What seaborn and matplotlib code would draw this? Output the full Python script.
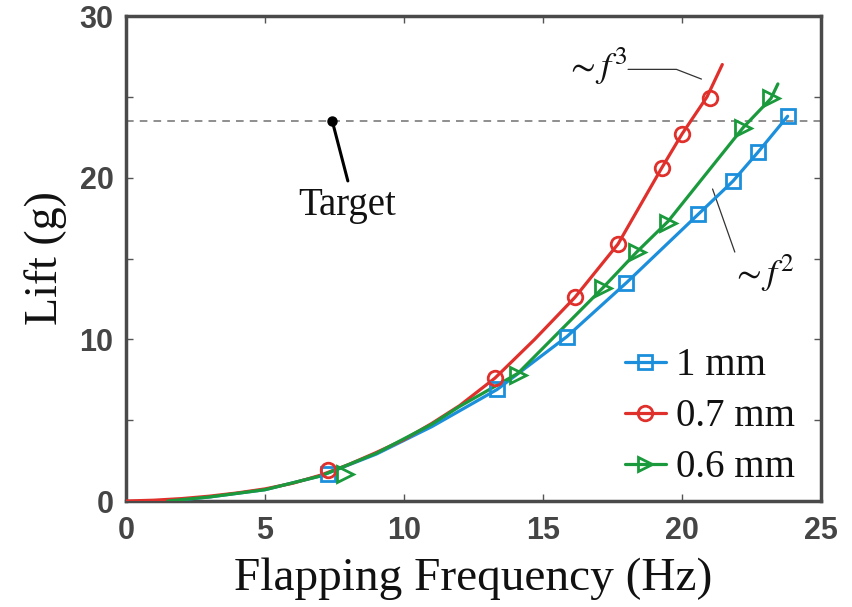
import numpy as np
import pandas as pd
import seaborn as sns
import matplotlib.pyplot as plt
from matplotlib.lines import Line2D

# ---- measured lift vs flapping frequency (markers) ----
freq_1mm = [7.27, 13.35, 15.86, 18.0, 20.58, 21.83, 22.73, 23.8]
lift_1mm = [1.7, 6.9, 10.17, 13.5, 17.73, 19.78, 21.57, 23.8]

freq_07mm = [7.27, 13.27, 16.15, 17.7, 19.27, 20.0, 21.0]
lift_07mm = [1.9, 7.6, 12.6, 15.9, 20.6, 22.7, 24.95]

freq_06mm = [7.88, 14.1, 17.16, 18.37, 19.5, 22.2, 23.2]
lift_06mm = [1.7, 7.8, 13.2, 15.4, 17.2, 23.1, 24.9]

# ---- fitted trend lines ----
curve_f_1mm = [1.5, 3, 5, 7, 9, 11, 13.35, 15.86, 18.0, 20.58, 21.83, 22.73, 23.8]
curve_l_1mm = [0.0, 0.25, 0.7, 1.55, 2.9, 4.6, 6.9, 10.17, 13.5, 17.73, 19.78, 21.57, 23.8]

curve_f_07mm = [0, 1, 2, 3, 4, 5, 6, 7, 8, 9, 10, 11, 12, 13.27, 14.7, 16.15, 17.7, 19.27, 20.0, 20.9, 21.45]
curve_l_07mm = [0.0, 0.05, 0.15, 0.3, 0.5, 0.75, 1.1, 1.6, 2.25, 3.0, 3.8, 4.8, 5.9, 7.6, 10.0, 12.6, 15.9, 20.6, 22.7, 25.0, 27.0]

curve_f_06mm = [1.5, 3, 5, 7, 9, 11, 12, 14.1, 17.16, 18.37, 19.5, 22.2, 23.2, 23.45]
curve_l_06mm = [0.0, 0.25, 0.7, 1.55, 2.95, 4.75, 5.85, 7.9, 13.2, 15.4, 17.3, 23.1, 24.9, 25.8]

labels = ["1 mm", "0.7 mm", "0.6 mm"]
colors = ["#1c8fdc", "#e0302c", "#1a9a3c"]
markers = ["s", "o", ">"]

target_lift = 23.5

x_ticks = [0, 5, 10, 15, 20, 25]
y_ticks = [0, 5, 10, 15, 20, 25, 30]
y_ticklabels = ["0", "", "10", "", "20", "", "30"]

sns.set_theme(style="white")
plt.rcParams["mathtext.fontset"] = "stix"
serif = "Liberation Serif"
sans = "Liberation Sans"

fig = plt.figure(figsize=(8.52, 6.07), dpi=100)
ax = fig.add_axes([0.1479, 0.1746, 0.8157, 0.7990])

series = [
    (curve_f_1mm, curve_l_1mm, freq_1mm, lift_1mm),
    (curve_f_07mm, curve_l_07mm, freq_07mm, lift_07mm),
    (curve_f_06mm, curve_l_06mm, freq_06mm, lift_06mm),
]

for (cf, cl, mf, ml), lab, col, mk in zip(series, labels, colors, markers):
    curve = pd.DataFrame({"f": cf, "lift": cl})
    pts = pd.DataFrame({"f": mf, "lift": ml})
    sns.lineplot(data=curve, x="f", y="lift", sort=False, color=col,
                 linewidth=2.3, ax=ax, zorder=3)
    sns.lineplot(data=pts, x="f", y="lift", sort=False, color=col,
                 linestyle="none", marker=mk, markersize=10.5 if mk != ">" else 11.5,
                 markerfacecolor="none", markeredgecolor=col,
                 markeredgewidth=2.0, ax=ax, zorder=4)

# target lift
ax.axhline(target_lift, color="#707070", linestyle=(0, (5, 4)), linewidth=1.1, zorder=2)
ax.plot([7.4], [target_lift], marker="o", color="black", markersize=6.5, zorder=5)
ax.plot([7.42, 7.98], [target_lift, 19.8], color="black", linewidth=2.2, zorder=5)
ax.text(7.95, 18.3, "Target", family=serif, fontsize=28, color="#111111",
        ha="center", va="center")

# scaling annotations
ax.text(16.9, 26.9, r"$\sim f^3$", fontsize=26, color="#111111",
        ha="center", va="center")
ax.plot([18.06, 19.8, 20.7], [26.7, 26.7, 26.1], color="#333333", linewidth=0.9)
ax.text(22.9, 14.1, r"$\sim f^2$", fontsize=26, color="#111111",
        ha="center", va="center")
ax.plot([21.1, 21.9], [19.3, 15.4], color="#333333", linewidth=0.9)

ax.set_xlim(0, 25)
ax.set_ylim(0, 30)
ax.set_xticks(x_ticks)
ax.set_xticklabels([str(t) for t in x_ticks])
ax.set_yticks(y_ticks)
ax.set_yticklabels(y_ticklabels)

for lbl in ax.get_xticklabels() + ax.get_yticklabels():
    lbl.set_family(sans)
    lbl.set_fontsize(22)
    lbl.set_fontweight("bold")
    lbl.set_color("#454545")

ax.tick_params(direction="in", length=5, width=1.0, color="#555555",
               top=True, right=True, bottom=True, left=True, pad=9)
ax.tick_params(axis="x", pad=11)

for s in ax.spines.values():
    s.set_visible(True)
    s.set_color("#4a4a4a")
    s.set_linewidth(2.5)

ax.set_xlabel("Flapping Frequency (Hz)", family=serif, fontsize=34,
              color="#111111", labelpad=8)
ax.set_ylabel("Lift (g)", family=serif, fontsize=33, color="#111111",
              labelpad=9)

handles = [
    Line2D([], [], color=c, linewidth=2.3, marker=m, markersize=10.5,
           markerfacecolor="none", markeredgecolor=c, markeredgewidth=2.0)
    for c, m in zip(colors, markers)
]
leg = ax.legend(handles, labels, loc="upper left", bbox_to_anchor=(0.718, 0.317),
                frameon=False, borderpad=0, borderaxespad=0,
                handlelength=1.05, handletextpad=0.25, labelspacing=0.36,
                prop={"family": serif, "size": 28})
for t in leg.get_texts():
    t.set_color("#111111")

fig.savefig("out.png", dpi=100)
